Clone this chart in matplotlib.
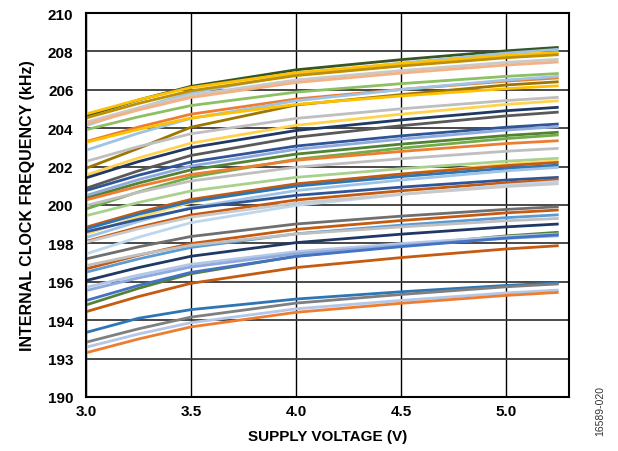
import matplotlib
matplotlib.use('Agg')
import matplotlib.pyplot as plt

plt.rcParams['font.family'] = ['Liberation Sans', 'DejaVu Sans']

# supply voltage points (V)
volts = [3.0, 3.25, 3.5, 4.0, 4.5, 5.0, 5.25]

# internal clock frequency (kHz), one list per device
freq = [
    [204.65, 205.47, 206.18, 207.04, 207.57, 208.03, 208.21],
    [204.13, 205.05, 205.84, 206.80, 207.39, 207.91, 208.11],
    [204.74, 205.48, 206.12, 206.89, 207.37, 207.79, 207.95],
    [204.53, 205.29, 205.95, 206.74, 207.24, 207.67, 207.83],
    [204.31, 205.06, 205.72, 206.51, 207.00, 207.43, 207.59],
    [204.20, 204.95, 205.60, 206.38, 206.87, 207.29, 207.45],
    [203.92, 204.59, 205.18, 205.88, 206.32, 206.70, 206.85],
    [203.30, 204.06, 204.73, 205.52, 206.02, 206.45, 206.62],
    [202.85, 203.74, 204.51, 205.43, 206.01, 206.51, 206.70],
    [201.91, 202.95, 204.05, 205.21, 205.75, 206.25, 206.42],
    [203.26, 203.94, 204.53, 205.24, 205.68, 206.06, 206.21],
    [202.27, 203.04, 203.71, 204.51, 205.01, 205.44, 205.61],
    [201.56, 202.45, 203.22, 204.15, 204.73, 205.24, 205.43],
    [201.41, 202.26, 202.99, 203.88, 204.43, 204.91, 205.09],
    [200.87, 201.78, 202.58, 203.53, 204.13, 204.64, 204.84],
    [200.75, 201.55, 202.24, 203.07, 203.60, 204.05, 204.22],
    [200.49, 201.32, 202.03, 202.90, 203.43, 203.90, 204.08],
    [200.35, 201.14, 201.83, 202.65, 203.17, 203.62, 203.79],
    [199.79, 200.68, 201.45, 202.38, 202.96, 203.46, 203.65],
    [200.26, 200.97, 201.59, 202.33, 202.79, 203.20, 203.35],
    [199.97, 200.66, 201.25, 201.97, 202.41, 202.80, 202.95],
    [199.44, 200.13, 200.73, 201.44, 201.89, 202.28, 202.43],
    [198.49, 199.37, 200.13, 201.05, 201.62, 202.12, 202.31],
    [198.84, 199.62, 200.29, 201.10, 201.61, 202.05, 202.22],
    [198.75, 199.52, 200.18, 200.98, 201.48, 201.91, 202.08],
    [198.30, 199.14, 199.87, 200.75, 201.30, 201.78, 201.96],
    [198.60, 199.25, 199.82, 200.50, 200.93, 201.30, 201.44],
    [198.10, 198.84, 199.48, 200.26, 200.74, 201.16, 201.32],
    [197.45, 198.32, 199.08, 199.98, 200.55, 201.04, 201.23],
    [198.06, 198.76, 199.37, 200.10, 200.56, 200.96, 201.11],
    [197.19, 197.82, 198.36, 199.01, 199.42, 199.77, 199.91],
    [196.67, 197.38, 197.99, 198.73, 199.19, 199.59, 199.74],
    [196.50, 197.19, 197.79, 198.50, 198.95, 199.34, 199.49],
    [196.84, 197.41, 197.90, 198.49, 198.86, 199.18, 199.30],
    [196.06, 196.74, 197.33, 198.04, 198.48, 198.86, 199.01],
    [194.79, 195.66, 196.42, 197.33, 197.90, 198.39, 198.58],
    [195.71, 196.35, 196.91, 197.57, 197.99, 198.35, 198.49],
    [195.54, 196.20, 196.77, 197.46, 197.89, 198.26, 198.40],
    [195.02, 195.81, 196.49, 197.32, 197.83, 198.28, 198.45],
    [194.44, 195.23, 195.92, 196.74, 197.26, 197.71, 197.88],
    [193.36, 194.10, 194.55, 195.10, 195.48, 195.81, 195.94],
    [192.85, 193.55, 194.16, 194.89, 195.34, 195.74, 195.89],
    [192.59, 193.28, 193.87, 194.59, 195.03, 195.42, 195.57],
    [192.30, 193.02, 193.65, 194.41, 194.88, 195.29, 195.45],
]

colors = [
    '#375623', '#9dc3e6', '#ffc000', '#bf8f00', '#c9c9c9', '#f4b183',
    '#8cc063', '#ed7d31', '#9dc3e6', '#9c7700', '#ffc000', '#bfbfbf',
    '#ffd34d', '#203864', '#595959', '#2f5597', '#8faadc', '#548235',
    '#70ad47', '#ed7d31', '#bfbfbf', '#a9d18e', '#ffd966', '#c55a11',
    '#2e75b6', '#9dc3e6', '#2f5597', '#c55a11', '#bdd7ee', '#c9c9c9',
    '#6f6f6f', '#c55a11', '#5b9bd5', '#bfbfbf', '#1f3864', '#548235',
    '#b4c7e7', '#8faadc', '#4472c4', '#c55a11', '#2e75b6', '#7f7f7f',
    '#b4c7e7', '#ed7d31',
]

yticks = [190, 192, 194, 196, 198, 200, 202, 204, 206, 208, 210]
ytick_labels = ['190', '193', '194', '196', '198', '200', '202', '204', '206', '208', '210']
xticks = [3.0, 3.5, 4.0, 4.5, 5.0]
xtick_labels = ['3.0', '3.5', '4.0', '4.5', '5.0']

fig = plt.figure(figsize=(6.18, 4.52), dpi=100)
ax = fig.add_axes([0.139, 0.1195, 0.782, 0.8495])

for f, c in zip(freq, colors):
    ax.plot(volts, f, color=c, lw=2.0, solid_capstyle='butt')

ax.set_xlim(3.0, 5.3)
ax.set_ylim(190, 210)
ax.set_xticks(xticks)
ax.set_xticklabels(xtick_labels)
ax.set_yticks(yticks)
ax.set_yticklabels(ytick_labels)
ax.grid(True, axis='x', color='black', lw=1.0)
ax.grid(True, axis='y', color='#3a3a3a', lw=1.3)
ax.set_axisbelow(True)
ax.tick_params(length=0, labelsize=11)
ax.tick_params(axis='y', pad=9)
ax.tick_params(axis='x', pad=5)
for lab in ax.get_xticklabels() + ax.get_yticklabels():
    lab.set_fontweight('bold')
for s in ax.spines.values():
    s.set_linewidth(1.5)

ax.set_xlabel('SUPPLY VOLTAGE (V)', fontsize=11, fontweight='bold', labelpad=8)
ax.set_ylabel('INTERNAL CLOCK FREQUENCY (kHz)', fontsize=11.5, fontweight='bold', labelpad=9)

fig.text(0.972, 0.09, '16589-020', rotation=90, fontsize=7.5, color='#333333',
         ha='center', va='center')

fig.savefig('out.png', dpi=100)
